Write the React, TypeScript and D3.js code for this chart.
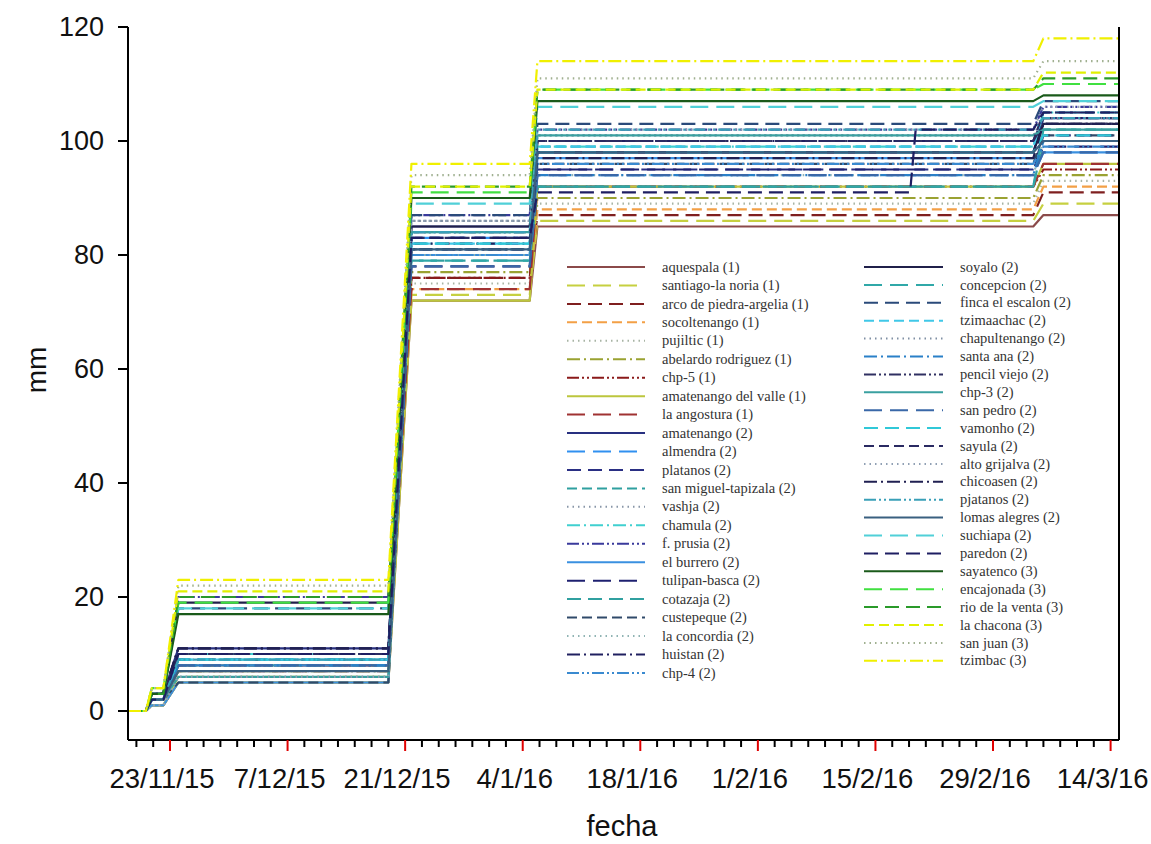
import React from "react";
import * as d3 from "d3";

// ---------- data ----------
const seriesNames = [
  "aquespala (1)", "santiago-la noria (1)", "arco de piedra-argelia (1)", "socoltenango (1)", "pujiltic (1)",
  "abelardo rodriguez (1)", "chp-5 (1)", "amatenango del valle (1)", "la angostura (1)",
  "amatenango (2)", "almendra (2)", "platanos (2)", "san miguel-tapizala (2)", "vashja (2)", "chamula (2)",
  "f. prusia (2)", "el burrero (2)", "tulipan-basca (2)", "cotazaja (2)", "custepeque (2)", "la concordia (2)",
  "huistan (2)", "chp-4 (2)", "soyalo (2)", "concepcion (2)", "finca el escalon (2)", "tzimaachac (2)",
  "chapultenango (2)", "santa ana (2)", "pencil viejo (2)", "chp-3 (2)", "san pedro (2)", "vamonho (2)",
  "sayula (2)", "alto grijalva (2)", "chicoasen (2)", "pjatanos (2)", "lomas alegres (2)", "suchiapa (2)",
  "paredon (2)", "sayatenco (3)", "encajonada (3)", "rio de la venta (3)", "la chacona (3)", "san juan (3)",
  "tzimbac (3)",
];
const seriesGroup = [
  1, 1, 1, 1, 1, 1, 1, 1, 1,
  2, 2, 2, 2, 2, 2, 2, 2, 2, 2, 2, 2, 2, 2, 2, 2, 2, 2, 2, 2, 2, 2, 2, 2, 2, 2, 2, 2, 2, 2, 2,
  3, 3, 3, 3, 3, 3,
];

// observation dates (cumulative rainfall read at these moments)
const obsDates = [
  "2015-11-18T00:00", "2015-11-20T03:00", "2015-11-20T20:00", "2015-11-22T05:00", "2015-11-24T00:00",
  "2015-12-19T00:00", "2015-12-21T18:00", "2016-01-04T20:00", "2016-01-05T18:00", "2016-02-19T03:00",
  "2016-02-19T19:00", "2016-03-04T19:00", "2016-03-06T00:00", "2016-03-15T00:00",
];

// cumulative mm at each plateau, one value per series
const rainStart = [
  0, 0, 0, 0, 0, 0, 0, 0, 0,
  0, 0, 0, 0, 0, 0, 0, 0, 0, 0, 0, 0, 0, 0, 0, 0, 0, 0, 0, 0, 0, 0, 0, 0, 0, 0, 0, 0, 0, 0, 0,
  0, 0, 0, 0, 0, 0,
];
const rainNov21 = [
  1, 1, 2, 1, 2, 2, 2, 1, 2,
  3, 2, 2, 3, 2, 3, 3, 1, 2, 2, 2, 1, 3, 2, 3, 2, 3, 2, 2, 2, 3, 2, 2, 2, 3, 1, 3, 2, 2, 3, 2,
  3, 4, 3, 4, 4, 4,
];
const rainNov24 = [
  5, 6, 7, 8, 6, 7, 8, 5, 8,
  11, 9, 10, 10, 9, 10, 20, 5, 9, 8, 5, 6, 11, 8, 19, 9, 18, 9, 7, 8, 10, 6, 8, 9, 10, 6, 11, 9, 7, 18, 10,
  17, 19, 20, 21, 22, 23,
];
const rainDec21 = [
  72, 73, 76, 74, 75, 77, 76, 72, 74,
  85, 83, 83, 84, 86, 82, 87, 80, 78, 79, 81, 80, 82, 80, 85, 79, 87, 82, 86, 81, 84, 84, 78, 82, 83, 86, 81, 84, 81, 89, 83,
  90, 91, 92, 92, 94, 96,
];
const rainJan5 = [
  85, 86, 87, 88, 89, 90, 92, 92, 92,
  98, 94, 95, 99, 101, 99, 102, 97, 95, 92, 96, 94, 100, 96, 98, 92, 103, 99, 101, 94, 100, 101, 94, 98, 100, 102, 97, 102, 98, 106, 91,
  107, 109, 109, 109, 111, 114,
];
const rainFeb19 = [
  85, 86, 87, 88, 89, 90, 92, 92, 92,
  98, 94, 95, 99, 101, 99, 102, 97, 95, 92, 96, 94, 100, 96, 98, 92, 103, 99, 101, 94, 100, 101, 94, 98, 100, 102, 97, 102, 98, 106, 102,
  107, 109, 109, 109, 111, 114,
];
const rainMar6 = [
  87, 89, 91, 92, 93, 94, 95, 96, 96,
  104, 98, 101, 102, 103, 105, 106, 98, 99, 100, 101, 100, 104, 99, 103, 102, 107, 105, 104, 100, 103, 102, 98, 101, 105, 106, 103, 104, 100, 107, 105,
  108, 110, 111, 112, 114, 118,
];

const majorTicks = ["2015-11-23", "2015-12-07", "2015-12-21", "2016-01-04", "2016-01-18", "2016-02-01", "2016-02-15", "2016-02-29", "2016-03-14"];
const yTicks = [0, 20, 40, 60, 80, 100, 120];

// ---------- styles ----------
const seriesColors = [
  "#8b4a4a", "#c6d040", "#7f1f1f", "#f3a046", "#a8b4a4", "#9aa232", "#8b1a1a", "#bcc63e", "#a03232",
  "#283080", "#3090f0", "#2a2f84", "#2fa0a0", "#8896a8", "#40d0d0", "#3a3a9c", "#3a90e0", "#1e2070", "#30a0a0",
  "#304a6a", "#90b4b4", "#202060", "#3a8ad0", "#20204a", "#30a8a8", "#2a4a7a", "#40c8e8", "#8090a4", "#2a80c8",
  "#303062", "#3aa0a0", "#3a68a8", "#30c8d8", "#2a2a62", "#90a0b4", "#202052", "#3aa0b8", "#3a6080", "#50d0d8",
  "#1e1e62", "#1a5a1a", "#40e040", "#2a9a2a", "#e0f000", "#a0b090", "#f0f000",
];
const dashStyles = ["none", "18 8", "14 7", "10 5", "1.5 4", "13 4 2 4", "12 3 2 3 2 3"];

const W = 1151;
const H = 844;
const plotLeft = 128;
const plotRight = 1119;
const plotTop = 27;
const plotBottom = 740;

const parse = (s: string) => new Date(s.length > 10 ? s : s + "T00:00");

export default function App() {
  const x = d3.scaleTime().domain([parse("2015-11-18"), parse("2016-03-15")]).range([plotLeft, plotRight]);
  const y = d3.scaleLinear().domain([-5.088, 120]).range([plotBottom, plotTop]);

  const dates = obsDates.map(parse);
  const stepArrays = [rainStart, rainStart, rainNov21, rainNov21, rainNov24, rainNov24, rainDec21, rainDec21, rainJan5, rainJan5, rainFeb19, rainFeb19, rainMar6, rainMar6];

  const line = d3.line<[Date, number]>().x((d) => x(d[0])).y((d) => y(d[1]));

  // dash index within group
  const groupIndex: number[] = [];
  const counters: Record<number, number> = {};
  seriesGroup.forEach((g) => {
    counters[g] = counters[g] ?? 0;
    groupIndex.push(counters[g] % 7);
    counters[g] += 1;
  });

  const start = parse("2015-11-18");
  const minor: Date[] = [];
  for (let i = 1; i <= 117; i += 2) {
    minor.push(d3.timeDay.offset(start, i));
  }
  const majors = majorTicks.map(parse);
  const majorSet = new Set(majors.map((d) => +d));
  const fmt = d3.timeFormat("%-d/%-m/%y");

  const col1 = seriesNames.slice(0, 23);
  const col2 = seriesNames.slice(23);

  return (
    <svg width={W} height={H} style={{ position: "absolute", left: 0, top: 0, background: "#fff" }}>
      <rect x={0} y={0} width={W} height={H} fill="#fff" />
      {/* series */}
      <g fill="none" strokeWidth={2.2} strokeLinejoin="round">
        {seriesNames.map((name, i) => {
          const pts: [Date, number][] = dates.map((d, k) => [d, stepArrays[k][i]]);
          const dash = dashStyles[groupIndex[i]];
          return (
            <path key={name} d={line(pts) || ""} stroke={seriesColors[i]} strokeDasharray={dash === "none" ? undefined : dash} />
          );
        })}
      </g>
      {/* frame */}
      <g stroke="#000" strokeWidth={2} fill="none">
        <line x1={plotLeft} x2={plotLeft} y1={plotTop} y2={plotBottom} />
        <line x1={plotLeft} x2={plotRight} y1={plotBottom} y2={plotBottom} />
        <line x1={plotRight} x2={plotRight} y1={plotTop} y2={plotBottom} />
      </g>
      {/* y axis */}
      <g fontFamily="'Liberation Sans', Arial, sans-serif" fontSize={27} fill="#111">
        {yTicks.map((t) => (
          <g key={t}>
            <line x1={plotLeft - 10} x2={plotLeft} y1={y(t)} y2={y(t)} stroke="#000" strokeWidth={2} />
            <text x={104} y={y(t)} dy="0.35em" textAnchor="end">{t}</text>
          </g>
        ))}
      </g>
      {/* x axis */}
      <g>
        {minor.filter((d) => !majorSet.has(+d)).map((d) => (
          <line key={+d} x1={x(d)} x2={x(d)} y1={plotBottom} y2={plotBottom + 7} stroke="#000" strokeWidth={2} />
        ))}
        {majors.map((d) => (
          <line key={+d} x1={x(d)} x2={x(d)} y1={plotBottom} y2={plotBottom + 11} stroke="#e00000" strokeWidth={2} />
        ))}
      </g>
      <g fontFamily="'Liberation Sans', Arial, sans-serif" fontSize={27.5} fill="#111" textAnchor="middle">
        {majors.map((d) => (
          <text key={+d} x={x(d) - 8} y={788}>{fmt(d)}</text>
        ))}
        <text x={622} y={836} fontSize={29}>fecha</text>
        <text transform={`translate(46,370) rotate(-90)`} fontSize={28}>mm</text>
      </g>
      {/* legend */}
      <g fontFamily="'Liberation Serif', 'Times New Roman', serif" fontSize={14.5} fill="#333">
        {col1.map((name, i) => {
          const idx = i;
          const yy = 267 + i * 18.45;
          const dash = dashStyles[groupIndex[idx]];
          return (
            <g key={name}>
              <line x1={567} x2={645} y1={yy} y2={yy} stroke={seriesColors[idx]} strokeWidth={2}
                strokeDasharray={dash === "none" ? undefined : dash} />
              <text x={662} y={yy} dy="0.32em">{name}</text>
            </g>
          );
        })}
        {col2.map((name, i) => {
          const idx = i + 23;
          const yy = 267 + i * 17.9;
          const dash = dashStyles[groupIndex[idx]];
          return (
            <g key={name}>
              <line x1={864} x2={943} y1={yy} y2={yy} stroke={seriesColors[idx]} strokeWidth={2}
                strokeDasharray={dash === "none" ? undefined : dash} />
              <text x={960} y={yy} dy="0.32em">{name}</text>
            </g>
          );
        })}
      </g>
    </svg>
  );
}
